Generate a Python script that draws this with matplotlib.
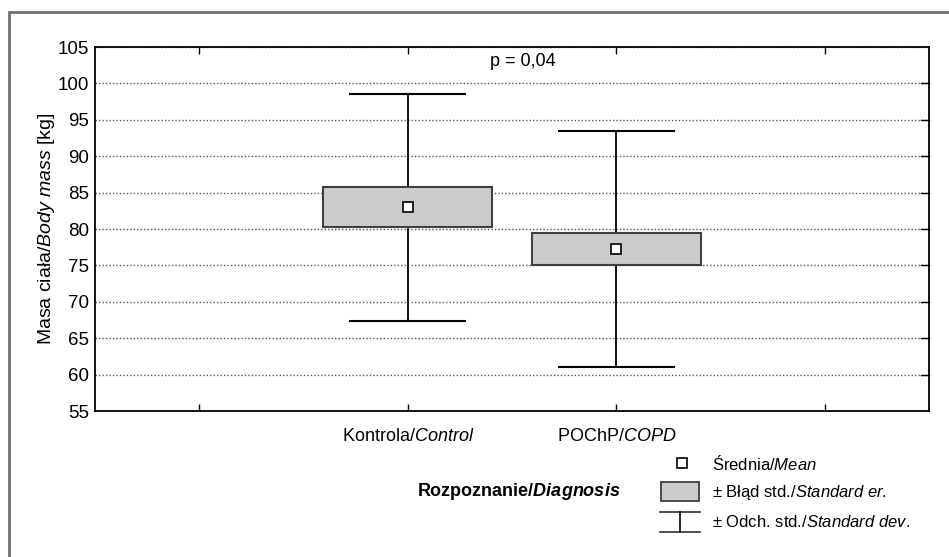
import matplotlib
matplotlib.use('Agg')
import matplotlib.pyplot as plt
from matplotlib.patches import Rectangle
from matplotlib.lines import Line2D

FONT = 'Liberation Sans'
plt.rcParams['font.family'] = [FONT, 'DejaVu Sans']
plt.rcParams['mathtext.fontset'] = 'custom'
plt.rcParams['mathtext.rm'] = FONT
plt.rcParams['mathtext.it'] = FONT + ':italic'
plt.rcParams['mathtext.bf'] = FONT + ':bold'
plt.rcParams['mathtext.bfit'] = FONT + ':italic:bold'

# data
groups = ['Kontrola/$\\mathit{Control}$', 'POChP/$\\mathit{COPD}$']
positions = [1, 2]
means = [83.0, 77.2]
se_low = [80.3, 75.1]
se_high = [85.8, 79.4]
sd_low = [67.4, 61.0]
sd_high = [98.6, 93.4]

W, H = 949, 557
FS = 12
fig = plt.figure(figsize=(W / 100, H / 100), dpi=100)


def fx(px):
    return px / W


def fy(py):
    return 1 - py / H


# outer frame
fig.add_artist(Rectangle((fx(9), fy(H + 5)), 1.2, fy(12) - fy(H + 5),
                         transform=fig.transFigure, fill=False,
                         edgecolor='#707070', linewidth=2))

ax = fig.add_axes([fx(95), fy(411), fx(929) - fx(95), fy(47) - fy(411)])

# whiskers (std dev)
ax.vlines(positions, sd_low, sd_high, color='black', linewidth=1.3, zorder=2)
ax.hlines(sd_high, [p - 0.28 for p in positions], [p + 0.28 for p in positions],
          color='black', linewidth=1.5, zorder=2)
ax.hlines(sd_low, [p - 0.28 for p in positions], [p + 0.28 for p in positions],
          color='black', linewidth=1.5, zorder=2)

# boxes (std error)
heights = [h - l for h, l in zip(se_high, se_low)]
ax.bar(positions, heights, bottom=se_low, width=0.81, color='#cccccc',
       edgecolor='#404040', linewidth=1.5, zorder=3)

# means
ax.plot(positions, means, linestyle='none', marker='s', markersize=7.5,
        markerfacecolor='white', markeredgecolor='black', markeredgewidth=1.2,
        zorder=4)

ax.set_xlim(-0.5, 3.5)
ax.set_ylim(55, 105)
ax.set_xticks([0, 1, 2, 3])
ax.set_xticklabels(['', groups[0], groups[1], ''])
ax.set_yticks(range(55, 106, 5))
ax.tick_params(axis='both', direction='in', top=True, right=True,
               labelsize=13.5, length=5, width=1)
ax.tick_params(axis='x', pad=12, labelsize=FS + 1)
ax.tick_params(axis='y', length=0, pad=4)
ax.yaxis.grid(True, linestyle=(0, (1, 1.5)), color='#555555', linewidth=1)
for y in range(60, 101, 5):
    ax.plot([3.46, 3.5], [y, y], color='black', linewidth=1, clip_on=False)
ax.set_axisbelow(True)
for s in ax.spines.values():
    s.set_linewidth(1.3)
ax.set_ylabel('Masa ciała/$\\mathit{Body\\ mass}$ [kg]', fontsize=FS + 2,
              labelpad=1)

ax.text(1.55, 103, 'p = 0,04', fontsize=FS + 1, ha='center', va='center')

# legend
fig.text(fx(519), fy(492), 'Rozpoznanie/$\\mathbfit{Diagnosis}$', fontsize=FS + 1,
         fontweight='bold', ha='center', va='center')
fig.add_artist(Line2D([fx(682)], [fy(463)], marker='s', markersize=7.5,
                      markerfacecolor='white', markeredgecolor='black',
                      markeredgewidth=1.2, transform=fig.transFigure))
fig.text(fx(712), fy(464), 'Średnia/$\\mathit{Mean}$', fontsize=FS, va='center')
fig.add_artist(Rectangle((fx(661), fy(501)), fx(699) - fx(661), fy(482) - fy(501),
                         transform=fig.transFigure, facecolor='#cccccc',
                         edgecolor='#404040', linewidth=1.3))
fig.text(fx(712), fy(493), '± Błąd std./$\\mathit{Standard\\ er.}$', fontsize=FS,
         va='center')
fig.add_artist(Line2D([fx(660), fx(700)], [fy(512), fy(512)], color='#404040',
                      linewidth=1.3, transform=fig.transFigure))
fig.add_artist(Line2D([fx(660), fx(700)], [fy(532), fy(532)], color='#404040',
                      linewidth=1.3, transform=fig.transFigure))
fig.add_artist(Line2D([fx(680), fx(680)], [fy(512), fy(532)], color='black',
                      linewidth=1.2, transform=fig.transFigure))
fig.text(fx(712), fy(522), '± Odch. std./$\\mathit{Standard\\ dev.}$', fontsize=FS,
         va='center')

fig.savefig('out.png', dpi=100)
